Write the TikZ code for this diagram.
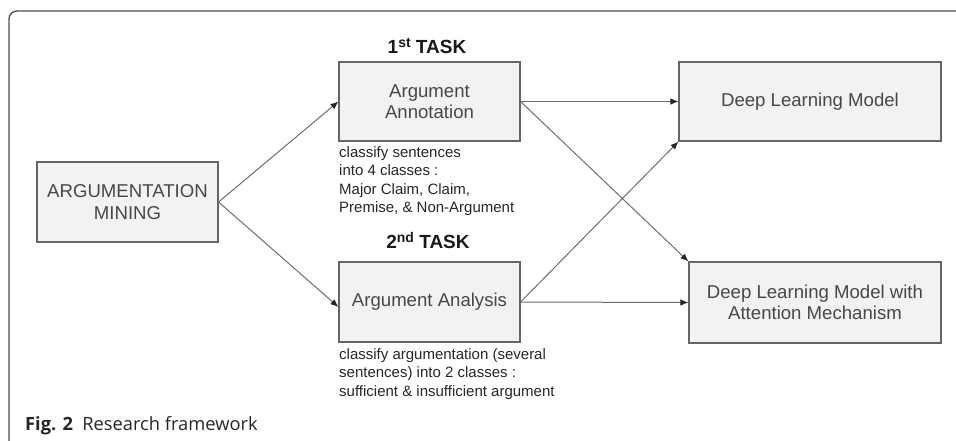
\documentclass[tikz,border=0pt]{standalone}
\usepackage{fontspec}
\setmainfont{Liberation Sans}
\newfontfamily\capfont{Open Sans}
\usetikzlibrary{arrows.meta}
\definecolor{boxfill}{HTML}{F2F2F2}
\definecolor{boxline}{HTML}{666666}
\definecolor{boxtext}{HTML}{474747}
\definecolor{arrowc}{HTML}{6E6E6E}
\definecolor{framec}{HTML}{4D4D4D}
\newcommand{\supx}[1]{\raisebox{5.5pt}{\fontsize{14}{14}\selectfont #1}}
\tikzset{
  procbox/.style={draw=boxline, line width=1.1pt, fill=boxfill, inner sep=0pt,
    align=center, text=boxtext, font=\fontsize{18.6}{21.5}\selectfont},
  flow/.style={draw=arrowc, line width=1pt, -{Latex[length=8pt,width=6.5pt,color=black!85]}},
  tasklbl/.style={inner sep=0pt, font=\fontsize{19}{22}\selectfont\bfseries, text=black!90},
  note/.style={inner sep=0pt, align=left, text=black!85, anchor=north west,
    font=\fontsize{15}{18.6}\selectfont},
}
\begin{document}
\begin{tikzpicture}[x=1pt,y=-1pt]
\useasboundingbox (0,0) rectangle (956,440);
% frame
\draw[framec, line width=1.3pt, rounded corners=8pt] (9,441) -- (9,11) -- (957,11);
% boxes
\node[procbox, minimum width=181pt, minimum height=80pt] (am) at (127.5,202) {ARGUMENTATION\\MINING};
\node[procbox, minimum width=181pt, minimum height=79pt] (aa) at (429.5,101.5) {Argument\\Annotation};
\node[procbox, minimum width=181pt, minimum height=80pt] (aan) at (429.5,302) {Argument Analysis};
\node[procbox, minimum width=262pt, minimum height=79pt] (dlm) at (810,101.5) {Deep Learning Model};
\node[procbox, minimum width=252pt, minimum height=81pt] (dlma) at (815,302.5) {Deep Learning Model with\\Attention Mechanism};
% labels
\node[tasklbl, anchor=base] (t1) at (427,53) {1\supx{st} TASK};
\node[tasklbl, anchor=base] (t2) at (428,248) {2\supx{nd} TASK};
\node[note] (n1) at (339,146) {classify sentences\\into 4 classes :\\Major Claim, Claim,\\Premise, \& Non-Argument};
\node[note] (n2) at (339,348) {classify argumentation (several\\sentences) into 2 classes :\\sufficient \& insufficient argument};
% arrows
\draw[flow] (am.east) -- (aa.west);
\draw[flow] (am.east) -- ([yshift=-5pt]aan.west);
\draw[flow] (aa.east) -- (dlm.west);
\draw[flow] (aa.east) -- (dlma.north west);
\draw[flow] (aan.east) -- (dlm.south west);
\draw[flow] (aan.east) -- (dlma.west);
% caption
\node[anchor=base west, inner sep=0pt, font=\capfont\fontsize{18.3}{22}\selectfont, text=black!85] (cap) at (25,430) {\textbf{Fig. 2}\enspace Research framework};
\end{tikzpicture}
\end{document}
